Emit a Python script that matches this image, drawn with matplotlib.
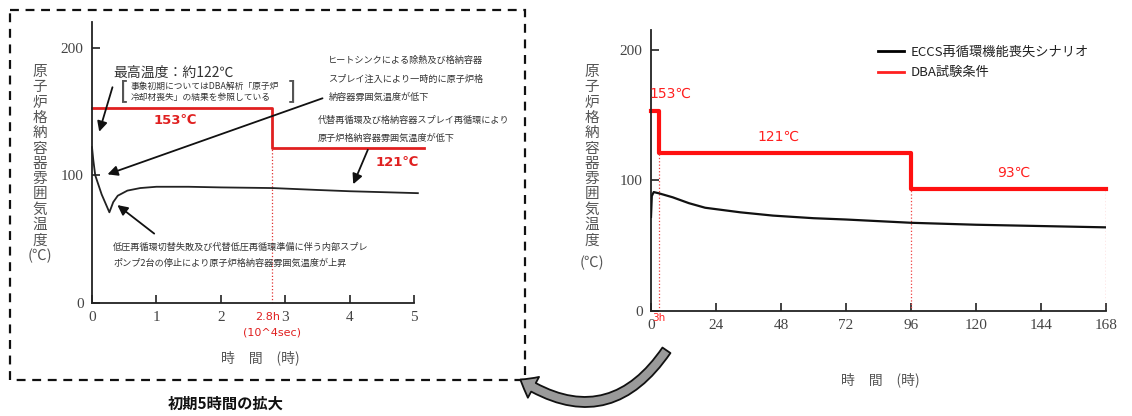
import numpy as np
import matplotlib
matplotlib.use("Agg")
import matplotlib.pyplot as plt
from matplotlib.patches import Rectangle, FancyArrowPatch
from matplotlib.lines import Line2D

plt.rcParams['font.family'] = ['Noto Sans CJK JP', 'DejaVu Sans']

# --- data ---
# left panel: first 5 hours
zoom_t = [0, 0.02, 0.05, 0.15, 0.27, 0.33, 0.4, 0.55, 0.75, 1.0, 1.5, 2.0, 2.8, 3.5, 4.0, 4.5, 5.06]
zoom_temp = [122, 112, 100, 85, 71, 79, 84, 88, 90, 91, 91, 90.5, 90, 88.5, 87.5, 86.8, 86]
zoom_dba_t = [0, 2.8, 5.15]
zoom_dba_temp = [153, 121, 121]

# right panel: 7 days
full_t = [0, 0.3, 1, 3, 8, 14, 20, 33, 45, 60, 72, 96, 120, 144, 168]
full_temp = [72, 88, 91, 90, 87, 82.5, 79, 75.5, 73, 71, 70, 67.5, 66, 65, 64]
full_dba_t = [0, 3, 96, 168]
full_dba_temp = [153, 121, 93, 93]

zoom_xticks = [0, 1, 2, 3, 4, 5]
full_xticks = [0, 24, 48, 72, 96, 120, 144, 168]
yticks = [0, 100, 200]

W, H = 1132, 416
fig = plt.figure(figsize=(W / 100, H / 100), dpi=100)

tick_font = dict(family='Liberation Serif', size=11, color='#444444')
gray_txt = '#555555'


def px_axes(x0, y0, x1, y1):
    # pixel box (top-left origin) -> axes
    return fig.add_axes([x0 / W, 1 - y1 / H, (x1 - x0) / W, (y1 - y0) / H])


def style_axes(ax):
    for s in ['top', 'right']:
        ax.spines[s].set_visible(False)
    for s in ['left', 'bottom']:
        ax.spines[s].set_linewidth(1.3)
        ax.spines[s].set_color('#222222')
    ax.tick_params(direction='in', length=6, width=1.2, colors='#222222', pad=6)
    for lab in ax.get_xticklabels() + ax.get_yticklabels():
        lab.set_fontfamily(tick_font['family'])
        lab.set_fontsize(tick_font['size'])
        lab.set_color(tick_font['color'])


# ---------------- left (zoomed) panel ----------------
ax1 = px_axes(92, 22, 414, 303)
ax1.plot(zoom_t, zoom_temp, color='#222222', lw=1.3, clip_on=False, zorder=3)
ax1.step(zoom_dba_t, zoom_dba_temp, where='post', color='#e02020', lw=2.0, clip_on=False)
ax1.vlines(zoom_dba_t[1], 0, zoom_dba_temp[1], colors='#e03030', lw=0.9, linestyles=':')
ax1.set_xlim(0, 5)
ax1.set_ylim(0, 220)
ax1.set_xticks(zoom_xticks)
ax1.set_yticks(yticks)
style_axes(ax1)

ax1.text(1.3, 143, '153℃', color='#e02020', fontsize=9.5, fontweight='bold',
         fontfamily='DejaVu Sans', ha='center', va='center')
ax1.text(4.74, 110, '121℃', color='#e02020', fontsize=9.5, fontweight='bold',
         fontfamily='DejaVu Sans', ha='center', va='center')
ax1.text(2.72, -11, '2.8h', color='#e02020', fontsize=8, fontfamily='DejaVu Sans',
         ha='center', va='center', clip_on=False)
ax1.text(2.8, -23, '(10^4sec)', color='#e02020', fontsize=8, fontfamily='DejaVu Sans',
         ha='center', va='center', clip_on=False)

arrow_kw = dict(arrowstyle='-|>,head_length=0.6,head_width=0.3', color='#111111', lw=1.3)
ax1.annotate('', xy=(0.1, 132), xytext=(0.33, 171), arrowprops=arrow_kw, annotation_clip=False)
ax1.annotate('', xy=(0.2, 100), xytext=(3.62, 161), arrowprops=arrow_kw, annotation_clip=False)
ax1.annotate('', xy=(4.04, 91), xytext=(4.3, 122), arrowprops=arrow_kw, annotation_clip=False)
ax1.annotate('', xy=(0.36, 78), xytext=(1.0, 53), arrowprops=arrow_kw, annotation_clip=False)

note_kw = dict(fontsize=6.6, color='#333333', ha='left', va='center')
ax1.text(3.67, 190, 'ヒートシンクによる除熱及び格納容器', **note_kw)
ax1.text(3.67, 175, 'スプレイ注入により一時的に原子炉格', **note_kw)
ax1.text(3.67, 161, '納容器雰囲気温度が低下', **note_kw)
ax1.text(3.50, 143, '代替再循環及び格納容器スプレイ再循環により', **note_kw)
ax1.text(3.50, 129, '原子炉格納容器雰囲気温度が低下', **note_kw)
ax1.text(0.33, 44, '低圧再循環切替失敗及び代替低圧再循環準備に伴う内部スプレ', **note_kw)
ax1.text(0.33, 31, 'ポンプ2台の停止により原子炉格納容器雰囲気温度が上昇', **note_kw)

# ---------------- right (7 days) panel ----------------
ax2 = px_axes(651, 30, 1106, 311)
ax2.plot(full_t, full_temp, color='#111111', lw=1.6, zorder=3)
ax2.step(full_dba_t, full_dba_temp, where='post', color='#ff1010', lw=3.0, clip_on=False)
for t, v in [(full_dba_t[1], full_dba_temp[1]), (full_dba_t[2], full_dba_temp[2]),
             (full_dba_t[3], full_dba_temp[3])]:
    ax2.vlines(t, 0, v, colors='#f04040', lw=0.9, linestyles=':')
ax2.set_xlim(0, 168)
ax2.set_ylim(0, 215)
ax2.set_xticks(full_xticks)
ax2.set_yticks(yticks)
style_axes(ax2)

lab_kw = dict(color='#ff2020', fontsize=10, fontfamily='DejaVu Sans', ha='center', va='center')
ax2.text(7, 166, '153℃', **lab_kw)
ax2.text(47, 133, '121℃', **lab_kw)
ax2.text(134, 106, '93℃', **lab_kw)
ax2.text(3, -5, '3h', color='#ff2020', fontsize=7.5, fontfamily='DejaVu Sans',
         ha='center', va='center', clip_on=False)

handles = [Line2D([0], [0], color='black', lw=2), Line2D([0], [0], color='#ff2020', lw=2)]
fig.legend(handles, ['ECCS再循環機能喪失シナリオ', 'DBA試験条件'], loc='upper left',
           bbox_to_anchor=(866 / W, 1 - 34 / H), frameon=False, fontsize=9.5,
           handlelength=2.0, handletextpad=0.5, labelspacing=0.55, labelcolor='#222222')

# ---------------- figure-level overlay (pixel coords) ----------------
ov = fig.add_axes([0, 0, 1, 1])
ov.set_xlim(0, W)
ov.set_ylim(H, 0)
ov.axis('off')

ylabel_chars = list('原子炉格納容器雰囲気温度')
for cx in (40, 592):
    for i, ch in enumerate(ylabel_chars):
        ov.text(cx, 72 + i * 15.3, ch, fontsize=10.5, color=gray_txt, ha='center', va='center')
ov.text(40, 256, '(℃)', fontsize=10.5, color=gray_txt, ha='center', va='center')
ov.text(592, 263, '(℃)', fontsize=10.5, color=gray_txt, ha='center', va='center')

ov.text(260, 358, '時　間　(時)', fontsize=10, color=gray_txt, ha='center', va='center')
ov.text(880, 380, '時　間　(時)', fontsize=10, color=gray_txt, ha='center', va='center')

ov.text(113, 73, '最高温度：約122℃', fontsize=10, color='#333333', ha='left', va='center')
ov.text(131, 86, '事象初期についてはDBA解析「原子炉', fontsize=6.3, color='#333333', ha='left', va='center')
ov.text(131, 97, '冷却材喪失」の結果を参照している', fontsize=6.3, color='#333333', ha='left', va='center')
ov.text(125, 91, '[', fontsize=17, color='#555555', ha='center', va='center', fontfamily='DejaVu Sans')
ov.text(291, 91, ']', fontsize=17, color='#555555', ha='center', va='center', fontfamily='DejaVu Sans')

ov.add_patch(Rectangle((10, 10), 515, 370, fill=False, ec='#111111', lw=1.6,
                       linestyle=(0, (4, 3))))
ov.text(226, 404, '初期5時間の拡大', fontsize=11, fontweight='bold', color='#111111',
        ha='center', va='center')

ov.add_patch(FancyArrowPatch((668, 348), (518, 378), connectionstyle='arc3,rad=-0.5',
                             arrowstyle='simple,head_length=11,head_width=17,tail_width=7',
                             fc='#9a9a9a', ec='#111111', lw=1.3, mutation_scale=1))

fig.savefig('out.png', dpi=100)
